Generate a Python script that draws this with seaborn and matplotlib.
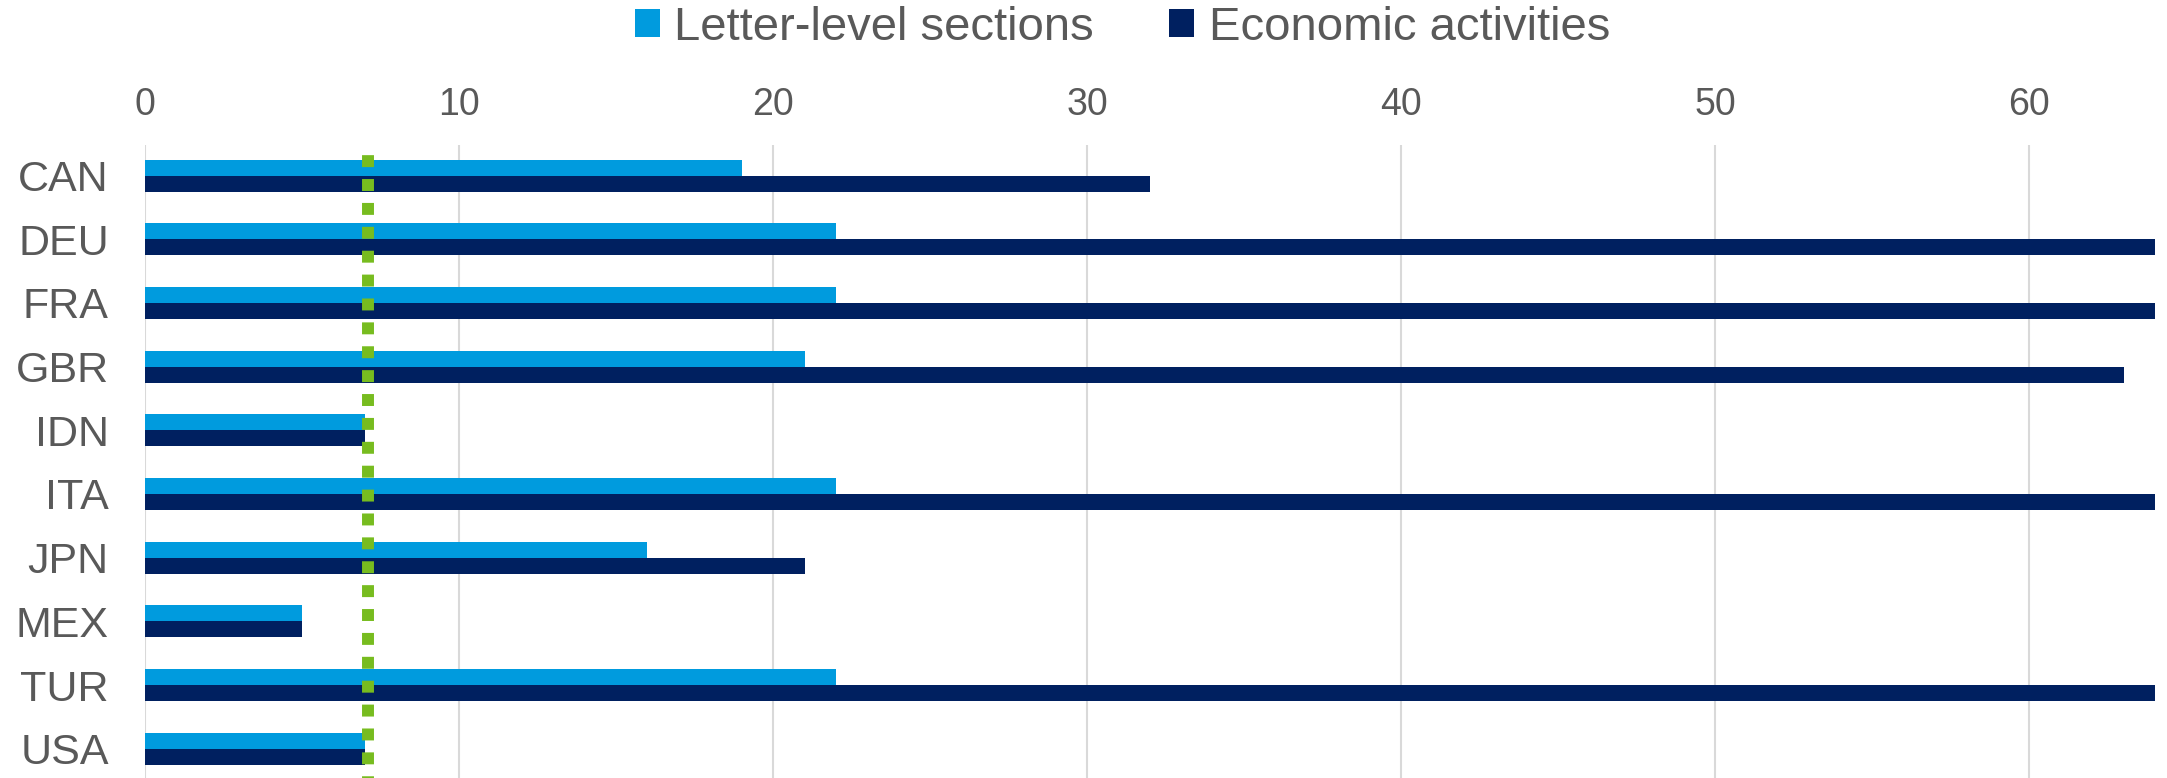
import matplotlib
matplotlib.use("Agg")
import matplotlib.pyplot as plt
import seaborn as sns
import pandas as pd
from matplotlib.patches import Patch

countries = ["CAN", "DEU", "FRA", "GBR", "IDN", "ITA", "JPN", "MEX", "TUR", "USA"]
letter_level = [19, 22, 22, 21, 7, 22, 16, 5, 22, 7]
economic_activities = [32, 64, 64, 63, 7, 64, 21, 5, 64, 7]
series_names = ["Letter-level sections", "Economic activities"]
series_colors = ["#009BDE", "#002060"]
reference_value = 7.1
x_ticks = [0, 10, 20, 30, 40, 50, 60]

df = pd.DataFrame({
    "country": countries * 2,
    "value": letter_level + economic_activities,
    "series": [series_names[0]] * len(countries) + [series_names[1]] * len(countries),
})

sns.set_theme(style="white")
plt.rcParams["font.family"] = ["Liberation Sans", "DejaVu Sans"]
text_color = "#595959"

fig = plt.figure(figsize=(21.67, 7.78), dpi=100)
ax = fig.add_axes([0.0669, 0.0, 0.9276, 0.8136])

sns.barplot(data=df, y="country", x="value", hue="series", orient="h",
            palette=series_colors, hue_order=series_names, order=countries,
            width=0.5, gap=0, linewidth=0, saturation=1, ax=ax, legend=True)

ax.axvline(reference_value, ymin=1, ymax=0, color="#77BC1F", lw=8.6,
           linestyle=(1.15, (1, 1)), dash_capstyle="butt", zorder=5)

ax.set_xlim(0, 64)
ax.set_ylim(9.46, -0.48)
ax.set_xticks(x_ticks)
ax.xaxis.tick_top()
ax.tick_params(axis="x", labelsize=27, colors=text_color, length=0, pad=16)
ax.tick_params(axis="y", labelsize=31, colors=text_color, length=0, pad=26)
ax.grid(axis="x", color="#D9D9D9", lw=1.5)
ax.set_axisbelow(True)
ax.set_xlabel("")
ax.set_ylabel("")
for s in ax.spines.values():
    s.set_visible(False)

if ax.get_legend() is not None:
    ax.get_legend().remove()
handles = [Patch(facecolor=c, edgecolor="none") for c in series_colors]
fig.legend(handles, series_names, loc="center", bbox_to_anchor=(0.518, 0.964),
           ncol=2, frameon=False, fontsize=34, labelcolor=text_color,
           handlelength=0.53, handleheight=0.53, handletextpad=0.3,
           columnspacing=1.6)

fig.savefig("out.png", dpi=100, facecolor="white")
